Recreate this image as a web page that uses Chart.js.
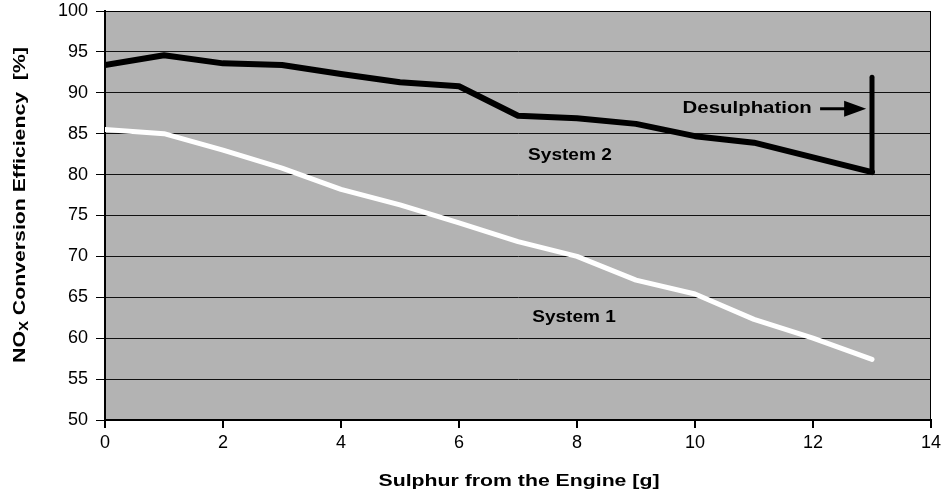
<!DOCTYPE html>
<html>
<head>
<meta charset="utf-8">
<script src="https://cdn.jsdelivr.net/npm/chart.js@4/dist/chart.umd.min.js"></script>
<style>
  html, body { margin: 0; padding: 0; background: #fff; }
  #wrap { width: 946px; height: 495px; }
</style>
</head>
<body>
<div id="wrap"><canvas id="chart" width="946" height="495"></canvas></div>
<script>
const sulphur = [0, 1, 2, 3, 4, 5, 6, 7, 8, 9, 10, 11, 12, 13];
const system2 = [93.4, 94.6, 93.6, 93.4, 92.3, 91.3, 90.8, 87.2, 86.9, 86.2, 84.7, 83.9, 82.1, 80.3];
const system1 = [85.5, 85.0, 83.0, 80.8, 78.2, 76.3, 74.1, 71.8, 70.0, 67.1, 65.4, 62.3, 60.0, 57.4];
const desulphX = [13, 13];
const desulphY = [80.3, 91.9];
const xTicks = [0, 2, 4, 6, 8, 10, 12, 14];
const yTicks = [50, 55, 60, 65, 70, 75, 80, 85, 90, 95, 100];

const FONT = '"Liberation Sans", Arial, sans-serif';
const toPoints = (xs, ys) => xs.map((x, i) => ({ x: x, y: ys[i] }));

// text in the original is a little wider than the font, so stretch it
function wideText(ctx, text, x, y, stretch, align) {
    ctx.save();
    ctx.translate(x, y);
    ctx.scale(stretch, 1);
    ctx.textAlign = align;
    ctx.fillText(text, 0, 0);
    ctx.restore();
}

const notes = {
    id: 'notes',
    beforeDraw(chart) {
        const { ctx, chartArea: a } = chart;
        ctx.save();
        ctx.fillStyle = '#b3b3b3';
        ctx.fillRect(a.left, a.top, a.right - a.left, a.bottom - a.top);
        ctx.restore();
    },
    afterDraw(chart) {
        const { ctx, chartArea: a, scales: { x, y } } = chart;
        ctx.save();
        // thin frame on top and right
        ctx.strokeStyle = '#000';
        ctx.lineWidth = 1;
        ctx.beginPath();
        ctx.moveTo(a.left, a.top + 0.5);
        ctx.lineTo(a.right - 0.5, a.top + 0.5);
        ctx.lineTo(a.right - 0.5, a.bottom);
        ctx.stroke();

        ctx.fillStyle = '#000';
        ctx.font = 'bold 17px ' + FONT;
        ctx.textBaseline = 'middle';
        wideText(ctx, 'System 2', x.getPixelForValue(7.88), y.getPixelForValue(82.3), 1.12, 'center');
        wideText(ctx, 'System 1', x.getPixelForValue(7.95), y.getPixelForValue(62.6), 1.12, 'center');

        const ty = y.getPixelForValue(88.05);
        wideText(ctx, 'Desulphation', x.getPixelForValue(11.98), ty, 1.2, 'right');
        // arrow
        const ax0 = x.getPixelForValue(12.12), ax1 = x.getPixelForValue(12.9);
        ctx.lineWidth = 3;
        ctx.beginPath();
        ctx.moveTo(ax0, ty);
        ctx.lineTo(ax1 - 18, ty);
        ctx.stroke();
        ctx.beginPath();
        ctx.moveTo(ax1, ty);
        ctx.lineTo(ax1 - 22, ty - 8);
        ctx.lineTo(ax1 - 22, ty + 8);
        ctx.closePath();
        ctx.fill();

        // axis titles
        ctx.font = 'bold 17px ' + FONT;
        wideText(ctx, 'Sulphur from the Engine [g]', (a.left + a.right) / 2 + 1, 481, 1.25, 'center');

        ctx.translate(20, 205);
        ctx.rotate(-Math.PI / 2);
        ctx.scale(1.25, 1);
        const big = 'bold 17px ' + FONT, small = 'bold 12px ' + FONT;
        const parts = [['NO', big, 0], ['X', small, 5], [' Conversion Efficiency  [%]', big, 0]];
        let total = 0;
        parts.forEach(p => { ctx.font = p[1]; total += ctx.measureText(p[0]).width; });
        let cx = -total / 2;
        ctx.textAlign = 'left';
        parts.forEach(p => {
            ctx.font = p[1];
            ctx.fillText(p[0], cx, p[2]);
            cx += ctx.measureText(p[0]).width;
        });
        ctx.restore();
    }
};

new Chart(document.getElementById('chart'), {
    type: 'scatter',
    data: {
        datasets: [
            {
                label: 'System 2',
                data: toPoints(sulphur, system2),
                showLine: true,
                borderColor: '#000',
                borderWidth: 6,
                pointRadius: 0,
                borderJoinStyle: 'round',
                borderCapStyle: 'round'
            },
            {
                label: 'Desulphation',
                data: toPoints(desulphX, desulphY),
                showLine: true,
                borderColor: '#000',
                borderWidth: 5,
                pointRadius: 0,
                borderCapStyle: 'round'
            },
            {
                label: 'System 1',
                data: toPoints(sulphur, system1),
                showLine: true,
                borderColor: '#fff',
                borderWidth: 5,
                pointRadius: 0,
                borderJoinStyle: 'round',
                borderCapStyle: 'round'
            }
        ]
    },
    options: {
        responsive: false,
        animation: false,
        layout: { padding: { top: 11, right: 15, left: 0, bottom: 0 } },
        plugins: { legend: { display: false }, tooltip: { enabled: false } },
        scales: {
            x: {
                type: 'linear',
                min: 0,
                max: 14,
                afterBuildTicks: s => { s.ticks = xTicks.map(v => ({ value: v })); },
                afterFit: s => { s.height = 75; s.paddingLeft = 0; s.paddingRight = 0; },
                ticks: { color: '#000', font: { family: FONT, size: 18 }, padding: 4 },
                grid: { drawOnChartArea: false, color: '#000', tickColor: '#000', tickLength: 8, lineWidth: 2 },
                border: { color: '#000', width: 2 }
            },
            y: {
                min: 50,
                max: 100,
                afterBuildTicks: s => { s.ticks = yTicks.map(v => ({ value: v })); },
                afterFit: s => { s.width = 105; s.paddingTop = 0; s.paddingBottom = 0; },
                ticks: { color: '#000', font: { family: FONT, size: 18 }, padding: 8 },
                grid: { color: '#111', tickColor: '#000', tickLength: 9, lineWidth: 1 },
                border: { color: '#000', width: 2 }
            }
        }
    },
    plugins: [notes]
});
</script>
</body>
</html>
